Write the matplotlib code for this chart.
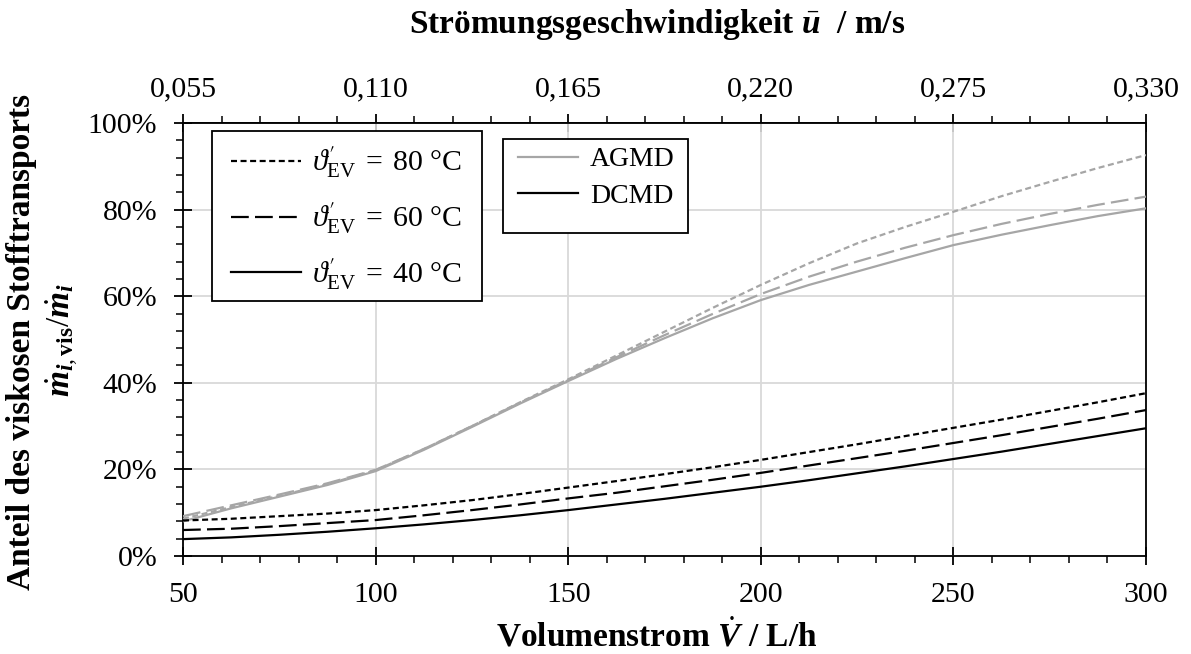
import numpy as np
import matplotlib
matplotlib.use("Agg")
import matplotlib.pyplot as plt
from matplotlib.ticker import FixedLocator, MultipleLocator, FuncFormatter
from matplotlib.lines import Line2D
from matplotlib.patches import Rectangle

plt.rcParams['font.family'] = ['Liberation Serif', 'DejaVu Serif']
plt.rcParams['mathtext.fontset'] = 'custom'
plt.rcParams['mathtext.rm'] = 'Liberation Serif'
plt.rcParams['mathtext.it'] = 'Liberation Serif:italic'
plt.rcParams['mathtext.bf'] = 'Liberation Serif:bold'
plt.rcParams['mathtext.bfit'] = 'Liberation Serif:italic:bold'
plt.rcParams['mathtext.sf'] = 'STIXGeneral'
plt.rcParams['mathtext.fallback'] = 'stix'

# Data
flow = [50, 62.5, 75, 87.5, 100, 112.5, 125, 137.5, 150, 162.5, 175,
        187.5, 200, 212.5, 225, 237.5, 250, 262.5, 275, 287.5, 300]  # L/h
agmd_80 = [8.6, 11.3, 13.9, 16.6, 19.8, 24.7, 30.0, 35.5, 40.8, 46.3, 51.8,
           57.3, 62.6, 67.6, 72.2, 76.0, 79.5, 83.1, 86.4, 89.6, 92.6]
agmd_60 = [9.2, 11.7, 14.2, 16.8, 19.9, 24.7, 30.0, 35.4, 40.6, 45.9, 51.0,
           55.9, 60.5, 64.5, 68.0, 71.2, 74.1, 76.7, 79.0, 81.1, 83.0]
agmd_40 = [8.0, 11.0, 13.7, 16.4, 19.6, 24.5, 29.8, 35.2, 40.4, 45.5, 50.3,
           54.9, 59.1, 62.6, 65.7, 68.8, 71.8, 74.2, 76.4, 78.5, 80.3]
dcmd_80 = [8.2, 8.6, 9.2, 9.8, 10.6, 11.7, 12.9, 14.3, 15.8, 17.3, 18.9,
           20.5, 22.2, 24.0, 25.8, 27.7, 29.6, 31.5, 33.5, 35.5, 37.6]
dcmd_60 = [6.0, 6.3, 6.9, 7.6, 8.3, 9.4, 10.6, 11.9, 13.3, 14.6, 16.1,
           17.6, 19.2, 20.9, 22.6, 24.3, 26.1, 27.9, 29.8, 31.7, 33.7]
dcmd_40 = [3.9, 4.3, 4.9, 5.6, 6.4, 7.3, 8.3, 9.4, 10.6, 11.9, 13.2,
           14.6, 16.0, 17.5, 19.1, 20.7, 22.4, 24.1, 25.9, 27.7, 29.5]
velocity_ticks = [0.055, 0.110, 0.165, 0.220, 0.275, 0.330]
temps = ["80", "60", "40"]

GRAY = '#a6a6a6'
LW = 1.6
DOT = (0, (2.7, 1.6))
DASH = (0, (8, 2.8))
SOLID = '-'
FS = 21.5
FS_TITLE = 24

W, H = 1191, 654
fig = plt.figure(figsize=(W/100, H/100), dpi=100)
ax = fig.add_axes([183/W, 1-556/H, (1146-183)/W, (556-123)/H])

for ys, ls in zip([agmd_80, agmd_60, agmd_40], [DOT, DASH, SOLID]):
    ax.plot(flow, ys, color=GRAY, lw=LW, linestyle=ls, zorder=3)
for ys, ls in zip([dcmd_80, dcmd_60, dcmd_40], [DOT, DASH, SOLID]):
    ax.plot(flow, ys, color='black', lw=LW, linestyle=ls, zorder=4)

ax.set_xlim(50, 300)
ax.set_ylim(0, 100)
ax.xaxis.set_major_locator(MultipleLocator(50))
ax.xaxis.set_minor_locator(MultipleLocator(10))
ax.yaxis.set_major_locator(MultipleLocator(20))
ax.yaxis.set_minor_locator(MultipleLocator(4))
ax.yaxis.set_major_formatter(FuncFormatter(lambda v, p: f"{v:.0f}%"))
ax.grid(True, which='major', color='#d9d9d9', lw=1.3, zorder=0)
ax.set_axisbelow(True)

for s in ax.spines.values():
    s.set_linewidth(1.3)
    s.set_color('black')

ax.tick_params(which='major', direction='inout', length=13, width=1.3,
               labelsize=FS, top=False, right=False)
ax.tick_params(which='minor', direction='out', length=5, width=1.1,
               top=False, right=False)
ax.tick_params(axis='x', which='major', pad=12)
ax.tick_params(axis='y', which='major', pad=12)

secax = ax.secondary_xaxis('top', functions=(lambda v: v * 0.0011,
                                              lambda u: u / 0.0011))
secax.xaxis.set_major_locator(FixedLocator(velocity_ticks))
secax.xaxis.set_minor_locator(FixedLocator([0.055 + 0.011 * k for k in range(26)]))
secax.xaxis.set_major_formatter(FuncFormatter(lambda v, p: f"{v:.3f}".replace('.', ',')))
secax.tick_params(which='major', direction='inout', length=13, width=1.3,
                  labelsize=FS, pad=8)
secax.tick_params(which='minor', direction='out', length=5, width=1.1)
secax.spines['top'].set_linewidth(1.3)

# Axis titles
fig.text(657/W, 1-636/H, r"Volumenstrom $\dot{\mathbfit{V}}$ / L/h",
         fontsize=FS_TITLE, fontweight='bold', ha='center', va='center')
fig.text(657/W, 1-25/H, r"Strömungsgeschwindigkeit $\bar{\mathbfit{u}}$  / m/s",
         fontsize=FS_TITLE, fontweight='bold', ha='center', va='center')
fig.text(22/W, 1-342/H, "Anteil des viskosen Stofftransports",
         fontsize=FS_TITLE, fontweight='bold', ha='center', va='center', rotation=90)
fig.text(62/W, 1-340/H,
         r"$\dot{\mathbfit{m}}_{\mathbfit{i},\mathbf{vis}}/\dot{\mathbfit{m}}_{\mathbfit{i}}$",
         fontsize=FS_TITLE, fontweight='bold', ha='center', va='center', rotation=90)

# Legend 1: temperatures (frame drawn separately)
ax.add_patch(Rectangle((212/W, 1-301/H), (482-212)/W, (301-131)/H,
                       transform=fig.transFigure, facecolor='white',
                       edgecolor='black', lw=1.3, zorder=5, clip_on=False))
h1 = [Line2D([], [], color='black', lw=LW, linestyle=ls) for ls in [DOT, DASH, SOLID]]
l1 = [r"$\vartheta^{\mathsf{\prime}}_{\mathrm{EV}}\;=\;%s\ \degree\mathrm{C}$" % t for t in temps]
leg1 = ax.legend(h1, l1, loc='upper left',
                 bbox_to_anchor=((231-183)/963, (556-145)/433),
                 fontsize=FS, frameon=False,
                 handlelength=2.35, handletextpad=0.35, labelspacing=0.7,
                 borderpad=0, borderaxespad=0)
leg1.set_zorder(6)
ax.add_artist(leg1)

# Legend 2: process type (frame drawn separately)
ax.add_patch(Rectangle((503/W, 1-233/H), (688-503)/W, (233-139)/H,
                       transform=fig.transFigure, facecolor='white',
                       edgecolor='black', lw=1.3, zorder=5, clip_on=False))
h2 = [Line2D([], [], color=GRAY, lw=LW), Line2D([], [], color='black', lw=LW)]
leg2 = ax.legend(h2, ["AGMD", "DCMD"], loc='upper left',
                 bbox_to_anchor=((518-183)/963, (556-147)/433),
                 fontsize=20, frameon=False,
                 handlelength=2.15, handletextpad=0.45, labelspacing=0.4,
                 borderpad=0, borderaxespad=0)
leg2.set_zorder(6)

fig.savefig("out.png", dpi=100)
